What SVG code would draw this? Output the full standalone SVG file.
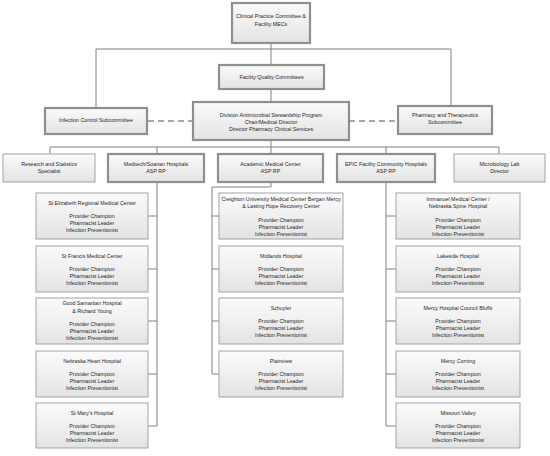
<svg xmlns="http://www.w3.org/2000/svg" width="550" height="456" viewBox="0 0 550 456">
<defs>
<linearGradient id="g" x1="0" y1="0" x2="0" y2="1">
<stop offset="0" stop-color="#fbfbfb"/>
<stop offset="1" stop-color="#e3e3e3"/>
</linearGradient>
</defs>
<style>
.b{fill:url(#g);stroke:#a3a3a3;stroke-width:1}
.t{fill:url(#g);stroke:#8f8f8f;stroke-width:2.2}
.c{fill:none;stroke:#808080;stroke-width:1}
.d{fill:none;stroke:#8c8c8c;stroke-width:1.5;stroke-dasharray:6 4}
text{font-family:"Liberation Sans",Arial,sans-serif;font-size:5.3px;fill:#262626;text-anchor:middle}
</style>
<rect width="550" height="456" fill="#ffffff"/>
<g id="connectors">
<path class="c" d="M271 43V65M96 49H451M96 49V108M451 49V106M271 89V102M271 140V154M50 147H499M50 147V154M157 147V154M386 147V154M499 147V154"/>
<path class="d" d="M148 121H193M349 121H398"/>
<path class="c" d="M157 182V426M148 216H157M148 269H157M148 321H157M148 374H157M148 426H157"/>
<path class="c" d="M271 182V187H212V374M212 216H219M212 269H219M212 321H219M212 374H219"/>
<path class="c" d="M386 182V426M386 216H396M386 269H396M386 321H396M386 374H396M386 426H396"/>
</g>
<g id="n-clinical"><rect class="t" x="232" y="3" width="78" height="40"/><text x="271" y="18">Clinical Practice Committee &amp;</text><text x="271" y="26">Facility MECs</text></g>
<g id="n-quality"><rect class="t" x="219" y="65" width="105" height="24"/><text x="271.5" y="79">Facility Quality Committees</text></g>
<g id="n-infection"><rect class="t" x="45" y="108" width="102" height="26"/><text x="96" y="122">Infection Control Subcommittee</text></g>
<g id="n-division"><rect class="t" x="193" y="102" width="156" height="38"/><text x="271" y="117">Division Antimicrobial Stewardship Program</text><text x="271" y="124">Chair/Medical Director</text><text x="271" y="131">Director Pharmacy Clinical Services</text></g>
<g id="n-pharmacy"><rect class="t" x="398" y="106" width="94" height="28"/><text x="445" y="117">Pharmacy and Therapeutics</text><text x="445" y="124">Subcommittee</text></g>
<g id="n-research"><rect class="b" x="3" y="154" width="92" height="28"/><text x="49" y="166">Research and Statistics</text><text x="49" y="173">Specialist</text></g>
<g id="n-meditech"><rect class="t" x="108" y="154" width="96" height="28"/><text x="156" y="166">Meditech/Soarian Hospitals</text><text x="156" y="173">ASP RP</text></g>
<g id="n-academic"><rect class="t" x="218" y="154" width="105" height="28"/><text x="270.5" y="166">Academic Medical Center</text><text x="270.5" y="173">ASP RP</text></g>
<g id="n-epic"><rect class="t" x="337" y="154" width="98" height="28"/><text x="386" y="166">EPIC Facility Community Hospitals</text><text x="386" y="173">ASP RP</text></g>
<g id="n-micro"><rect class="b" x="454" y="154" width="91" height="28"/><text x="499.5" y="166">Microbiology Lab</text><text x="499.5" y="173">Director</text></g>

<g id="n-elizabeth"><rect class="b" x="36" y="193" width="112" height="46"/><text x="92" y="205">St Elizabeth Regional Medical Center</text><text x="92" y="218">Provider Champion</text><text x="92" y="225">Pharmacist Leader</text><text x="92" y="232">Infection Preventionist</text></g>
<g id="n-francis"><rect class="b" x="36" y="246" width="112" height="46"/><text x="92" y="258">St Francis Medical Center</text><text x="92" y="271">Provider Champion</text><text x="92" y="278">Pharmacist Leader</text><text x="92" y="285">Infection Preventionist</text></g>
<g id="n-samaritan"><rect class="b" x="36" y="298" width="112" height="46"/><text x="92" y="305">Good Samaritan Hospital</text><text x="92" y="312.5">&amp; Richard Young</text><text x="92" y="325.5">Provider Champion</text><text x="92" y="332.5">Pharmacist Leader</text><text x="92" y="339.5">Infection Preventionist</text></g>
<g id="n-nebheart"><rect class="b" x="36" y="351" width="112" height="46"/><text x="92" y="363">Nebraska Heart Hospital</text><text x="92" y="376">Provider Champion</text><text x="92" y="383">Pharmacist Leader</text><text x="92" y="390">Infection Preventionist</text></g>
<g id="n-marys"><rect class="b" x="36" y="403" width="112" height="45"/><text x="92" y="415">St Mary's Hospital</text><text x="92" y="428">Provider Champion</text><text x="92" y="435">Pharmacist Leader</text><text x="92" y="442">Infection Preventionist</text></g>

<g id="n-creighton"><rect class="b" x="219" y="193" width="124" height="46"/><text x="281" y="201">Creighton University Medical Center Bergan Mercy</text><text x="281" y="208">&amp; Lasting Hope Recovery Center</text><text x="281" y="222">Provider Champion</text><text x="281" y="229">Pharmacist Leader</text><text x="281" y="236">Infection Preventionist</text></g>
<g id="n-midlands"><rect class="b" x="219" y="246" width="124" height="46"/><text x="281" y="258">Midlands Hospital</text><text x="281" y="271">Provider Champion</text><text x="281" y="278">Pharmacist Leader</text><text x="281" y="285">Infection Preventionist</text></g>
<g id="n-schuyler"><rect class="b" x="219" y="298" width="124" height="46"/><text x="281" y="310">Schuyler</text><text x="281" y="323">Provider Champion</text><text x="281" y="330">Pharmacist Leader</text><text x="281" y="337">Infection Preventionist</text></g>
<g id="n-plainview"><rect class="b" x="219" y="351" width="124" height="46"/><text x="281" y="363">Plainview</text><text x="281" y="376">Provider Champion</text><text x="281" y="383">Pharmacist Leader</text><text x="281" y="390">Infection Preventionist</text></g>

<g id="n-immanuel"><rect class="b" x="396" y="193" width="124" height="46"/><text x="458" y="201">Immanuel Medical Center /</text><text x="458" y="208">Nebraska Spine Hospital</text><text x="458" y="222">Provider Champion</text><text x="458" y="229">Pharmacist Leader</text><text x="458" y="236">Infection Preventionist</text></g>
<g id="n-lakeside"><rect class="b" x="396" y="246" width="124" height="46"/><text x="458" y="258">Lakeside Hospital</text><text x="458" y="271">Provider Champion</text><text x="458" y="278">Pharmacist Leader</text><text x="458" y="285">Infection Preventionist</text></g>
<g id="n-mercycb"><rect class="b" x="396" y="298" width="124" height="46"/><text x="458" y="310">Mercy Hospital Council Bluffs</text><text x="458" y="323">Provider Champion</text><text x="458" y="330">Pharmacist Leader</text><text x="458" y="337">Infection Preventionist</text></g>
<g id="n-mercycorning"><rect class="b" x="396" y="351" width="124" height="46"/><text x="458" y="363">Mercy Corning</text><text x="458" y="376">Provider Champion</text><text x="458" y="383">Pharmacist Leader</text><text x="458" y="390">Infection Preventionist</text></g>
<g id="n-missouri"><rect class="b" x="396" y="403" width="124" height="45"/><text x="458" y="415">Missouri Valley</text><text x="458" y="428">Provider Champion</text><text x="458" y="435">Pharmacist Leader</text><text x="458" y="442">Infection Preventionist</text></g>
</svg>
